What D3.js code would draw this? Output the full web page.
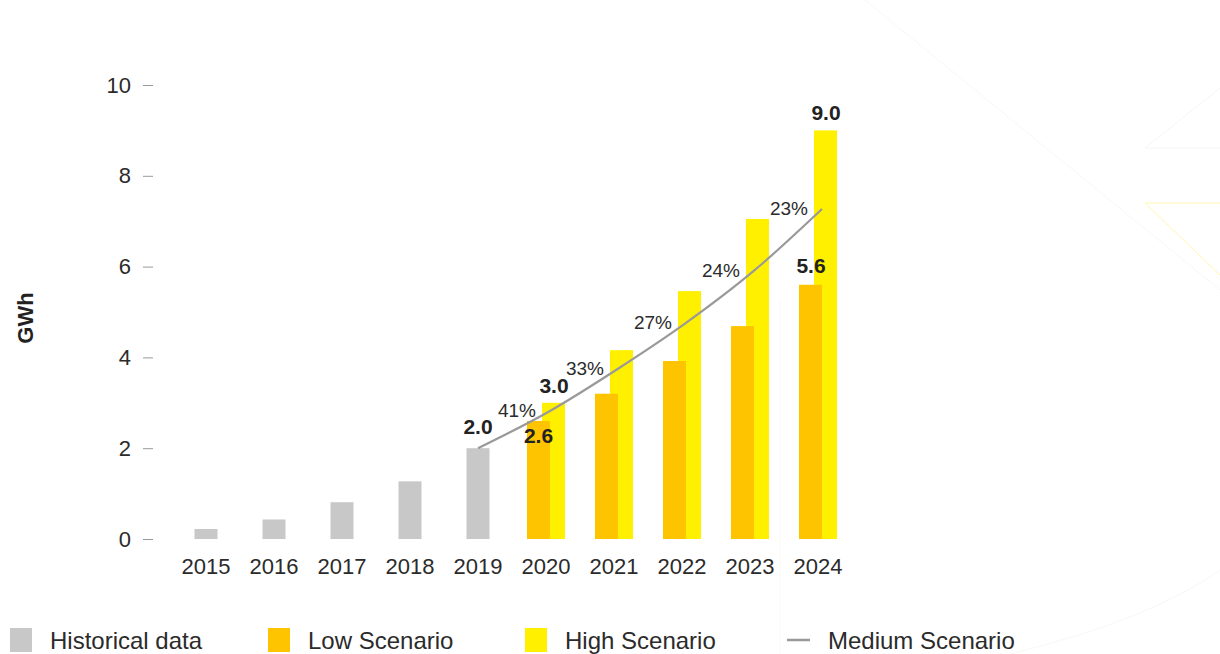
<!DOCTYPE html>
<html>
<head>
<meta charset="utf-8">
<script src="https://cdn.jsdelivr.net/npm/d3@7"></script>
<style>
  body { margin: 0; background: #fff; }
  svg { display: block; font-family: "Liberation Sans", Arial, sans-serif; }
</style>
</head>
<body>
<div id="chart"></div>
<script>
// data
var years = ["2015", "2016", "2017", "2018", "2019", "2020", "2021", "2022", "2023", "2024"];
var historical = [0.22, 0.43, 0.81, 1.27, 2.0];
var histYears = ["2015", "2016", "2017", "2018", "2019"];
var scenYears = ["2020", "2021", "2022", "2023", "2024"];
var lowScenario = [2.6, 3.2, 3.92, 4.69, 5.6];
var highScenario = [3.0, 4.16, 5.46, 7.05, 9.0];
var mediumYears = ["2019", "2020", "2021", "2022", "2023", "2024"];
var mediumScenario = [2.0, 2.82, 3.75, 4.76, 5.91, 7.27];
var growthLabels = ["41%", "33%", "27%", "24%", "23%"];
var yTicks = [0, 2, 4, 6, 8, 10];

var W = 1220, H = 654;
var textColor = "#2b2b2b";
var colors = { hist: "#c8c8c8", low: "#ffc400", high: "#fff000", medium: "#999999" };

var svg = d3.select("#chart").append("svg")
  .attr("width", W)
  .attr("height", H);

// faint background decoration on the right
var deco = svg.append("g").attr("fill", "none").attr("stroke-width", 1);
deco.append("path").attr("d", "M865,0 L1220,290").attr("stroke", "#f7f7f7");
deco.append("path").attr("d", "M1145,148 L1220,148 M1145,148 L1220,88").attr("stroke", "#f5f5f5");
deco.append("path").attr("d", "M1145,203 L1220,203 M1145,203 L1220,275").attr("stroke", "#fff7b0");
deco.append("path").attr("d", "M1010,654 Q1150,620 1220,570").attr("stroke", "#f7f7f7");
deco.append("path").attr("d", "M780,300 L780,654").attr("stroke", "#f8f8f8");

var x = d3.scaleBand()
  .domain(years)
  .range([172, 852])
  .paddingInner(0.66)
  .paddingOuter(0.33);

var y = d3.scaleLinear()
  .domain([0, 10])
  .range([539, 85]);

var cx = function(yr) { return x(yr) + x.bandwidth() / 2; };
var barW = 23;

// y axis
var yAxis = d3.axisLeft(y)
  .tickValues(yTicks)
  .tickSize(10)
  .tickPadding(12);
var gy = svg.append("g")
  .attr("transform", "translate(153,0)")
  .call(yAxis);
gy.select(".domain").remove();
gy.selectAll(".tick line").attr("stroke", "#999");
gy.selectAll(".tick text")
  .attr("fill", textColor)
  .style("font-size", "22px")
  .style("font-family", "'Liberation Sans', Arial, sans-serif");

// x axis
var xAxis = d3.axisBottom(x).tickSize(0).tickPadding(6);
var gx = svg.append("g")
  .attr("transform", "translate(0,552)")
  .call(xAxis);
gx.select(".domain").remove();
gx.selectAll(".tick text")
  .attr("fill", textColor)
  .style("font-size", "22px")
  .style("font-family", "'Liberation Sans', Arial, sans-serif");

svg.append("text")
  .attr("transform", "translate(33,318) rotate(-90)")
  .attr("text-anchor", "middle")
  .attr("fill", "#222")
  .attr("font-size", 22)
  .attr("font-weight", "bold")
  .text("GWh");

// historical bars
svg.append("g").selectAll("rect")
  .data(historical)
  .join("rect")
  .attr("x", function(d, i) { return cx(histYears[i]) - barW / 2; })
  .attr("y", function(d) { return y(d); })
  .attr("width", barW)
  .attr("height", function(d) { return y(0) - y(d); })
  .attr("fill", colors.hist);

// high scenario (behind), low scenario (front)
svg.append("g").selectAll("rect")
  .data(highScenario)
  .join("rect")
  .attr("x", function(d, i) { return cx(scenYears[i]) - 4; })
  .attr("y", function(d) { return y(d); })
  .attr("width", barW)
  .attr("height", function(d) { return y(0) - y(d); })
  .attr("fill", colors.high);

svg.append("g").selectAll("rect")
  .data(lowScenario)
  .join("rect")
  .attr("x", function(d, i) { return cx(scenYears[i]) - 19; })
  .attr("y", function(d) { return y(d); })
  .attr("width", barW)
  .attr("height", function(d) { return y(0) - y(d); })
  .attr("fill", colors.low);

// medium scenario line
var line = d3.line()
  .x(function(d, i) { return cx(mediumYears[i]) + (i === 0 ? 0 : 4); })
  .y(function(d) { return y(d); })
  .curve(d3.curveMonotoneX);

svg.append("path")
  .datum(mediumScenario)
  .attr("d", line)
  .attr("fill", "none")
  .attr("stroke", colors.medium)
  .attr("stroke-width", 2.2);

// growth labels between years, level with the next point
svg.append("g").selectAll("text")
  .data(growthLabels)
  .join("text")
  .attr("x", function(d, i) { return (cx(mediumYears[i]) + cx(mediumYears[i + 1])) / 2 + 5; })
  .attr("y", function(d, i) { return y(mediumScenario[i + 1]) + 6; })
  .attr("text-anchor", "middle")
  .attr("fill", textColor)
  .attr("font-size", 19)
  .text(function(d) { return d; });

// value labels
var valueLabels = [
  { yr: "2019", v: historical[4], dx: 0, dy: -14 },
  { yr: "2020", v: highScenario[0], dx: 8, dy: -10 },
  { yr: "2020", v: lowScenario[0], dx: -7.5, dy: 22 },
  { yr: "2024", v: highScenario[4], dx: 8, dy: -10 },
  { yr: "2024", v: lowScenario[4], dx: -7, dy: -11.5 }
];
svg.append("g").selectAll("text")
  .data(valueLabels)
  .join("text")
  .attr("x", function(d) { return cx(d.yr) + d.dx; })
  .attr("y", function(d) { return y(d.v) + d.dy; })
  .attr("text-anchor", "middle")
  .attr("fill", "#222")
  .attr("font-size", 21)
  .attr("font-weight", "bold")
  .text(function(d) { return d.v.toFixed(1); });

// legend
var legendItems = [
  { label: "Historical data", color: colors.hist, x: 10, type: "box" },
  { label: "Low Scenario", color: colors.low, x: 268, type: "box" },
  { label: "High Scenario", color: colors.high, x: 525, type: "box" },
  { label: "Medium Scenario", color: colors.medium, x: 787, type: "line" }
];
var lg = svg.append("g").selectAll("g")
  .data(legendItems)
  .join("g")
  .attr("transform", function(d) { return "translate(" + d.x + ",640)"; });
lg.filter(function(d) { return d.type === "box"; })
  .append("rect")
  .attr("x", 0).attr("y", -12)
  .attr("width", 22).attr("height", 24)
  .attr("fill", function(d) { return d.color; });
lg.filter(function(d) { return d.type === "line"; })
  .append("line")
  .attr("x1", 0).attr("x2", 23)
  .attr("stroke", function(d) { return d.color; })
  .attr("stroke-width", 2.5);
lg.append("text")
  .attr("x", function(d) { return d.type === "box" ? 40 : 41; })
  .attr("y", 9)
  .attr("fill", textColor)
  .attr("font-size", 24)
  .text(function(d) { return d.label; });
</script>
</body>
</html>
